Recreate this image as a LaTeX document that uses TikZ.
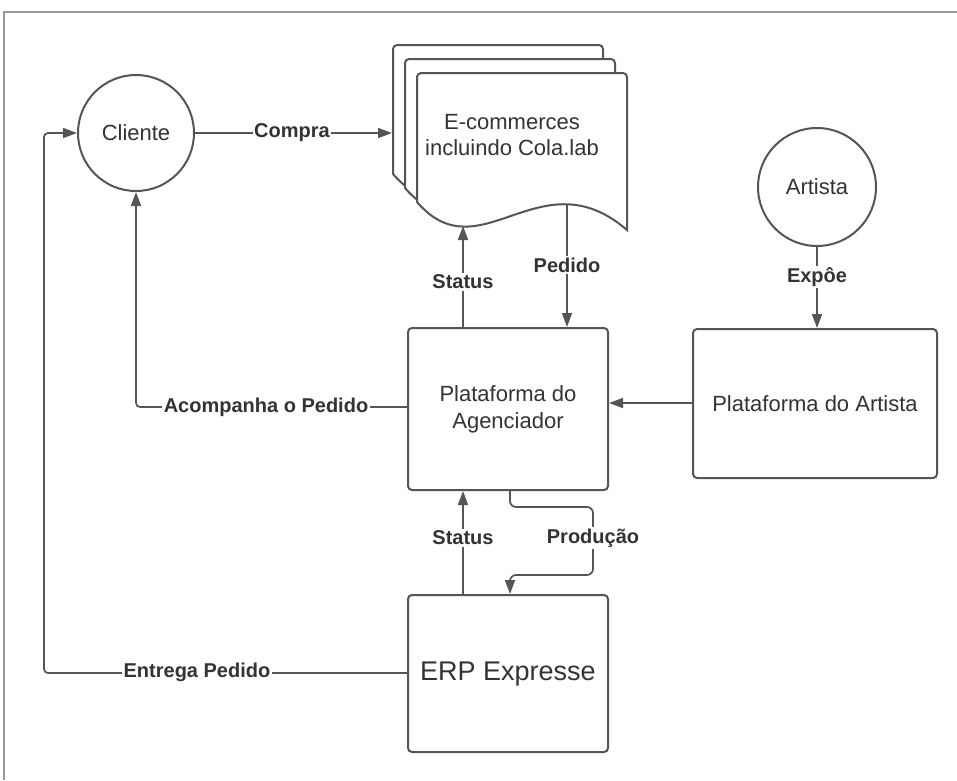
\documentclass[tikz,border=0pt]{standalone}
\usepackage{fontspec}
\setmainfont{Liberation Sans}
\usetikzlibrary{arrows.meta}
\definecolor{ln}{HTML}{555555}
\definecolor{tx}{HTML}{333333}
\definecolor{frm}{HTML}{9A9A9A}
\begin{document}
\begin{tikzpicture}[x=1pt,y=-1pt,
 box/.style={draw=ln,line width=2pt,rounded corners=4pt,fill=white,text=tx,font=\fontsize{22}{27}\selectfont,align=center,inner sep=0pt},
 circ/.style={draw=ln,line width=2pt,circle,fill=white,text=tx,font=\fontsize{22}{26}\selectfont,inner sep=0pt},
 conn/.style={draw=ln,line width=1.7pt,-{Triangle[length=14pt,width=10pt]}},
 lab/.style={fill=white,text=tx,font=\bfseries\fontsize{20}{24}\selectfont,inner sep=1.5pt},
 docshape/.style={draw=ln,line width=2pt,fill=white}]
\useasboundingbox (0,0) rectangle (957,780);
\draw[frm,line width=1.3pt] (4,780) -- (4,12) -- (957,12);

% document stack
\foreach \dx/\dy in {0/0,12/14,24/28}{
  \begin{scope}[shift={(393+\dx,45+\dy)}]
    \path[docshape] (0,129) [rounded corners=4pt] -- (0,0) -- (210,0) [sharp corners] -- (210,157)
      .. controls (123,82) and (63,202) .. (0,129) -- cycle;
  \end{scope}
}
\node[text=tx,font=\fontsize{22}{26}\selectfont,align=center] (doc) at (512,135) {E-commerces\\incluindo Cola.lab};
\coordinate (docin) at (392,133);
\coordinate (docP) at (567,204);
\coordinate (docS) at (463,226);

% nodes
\node[circ,minimum size=116pt] (cli) at (136,133) {Cliente};
\node[circ,minimum size=118pt] (art) at (817,187) {Artista};
\node[box,minimum width=200pt,minimum height=162pt] (agen) at (508,409) {Plataforma do\\Agenciador};
\node[box,minimum width=244pt,minimum height=149pt] (part) at (815,403.5) {Plataforma do Artista};
\node[box,minimum width=200pt,minimum height=157pt,font=\fontsize{27}{32}\selectfont] (erp) at (508,673.5) {ERP Expresse};

% connectors
\draw[conn] (cli.east) -- (docin);
\node[lab] (lcompra) at (292,133) {Compra};

\draw[conn] (docP) -- (docP |- agen.north);
\node[lab] (lpedido) at (567,265) {Pedido};

\draw[conn] (agen.north -| docS) -- (docS);
\node[lab] (lstat1) at (463,282) {Status};

\draw[conn] (art.south) -- (art.south |- part.north);
\node[lab] (lexpoe) at (817,277) {Expôe};

\draw[conn] (part.west |- 0,403) -- (agen.east |- 0,403);

\coordinate (acc) at (136,407);
\draw[conn,rounded corners=4pt] (agen.west |- acc) -- (acc) -- (cli.south);
\node[lab] (lacomp) at (266,407) {Acompanha o Pedido};

\coordinate (st2) at (463,0);
\draw[conn] (erp.north -| st2) -- (agen.south -| st2);
\node[lab] (lstat2) at (463,538) {Status};

\coordinate (pr) at (510,0);
\draw[conn,rounded corners=6pt] (agen.south -| pr) -- (510,507) -- (593,507) -- (593,575) -- (510,575) -- (erp.north -| pr);
\node[lab] (lprod) at (593,538) {Produção};

\coordinate (en1) at (44,673);
\coordinate (en2) at (44,133);
\draw[conn,rounded corners=4pt] (erp.west |- en1) -- (en1) -- (en2) -- (cli.west);
\node[lab] (lentrega) at (197,672) {Entrega Pedido};
\end{tikzpicture}
\end{document}
